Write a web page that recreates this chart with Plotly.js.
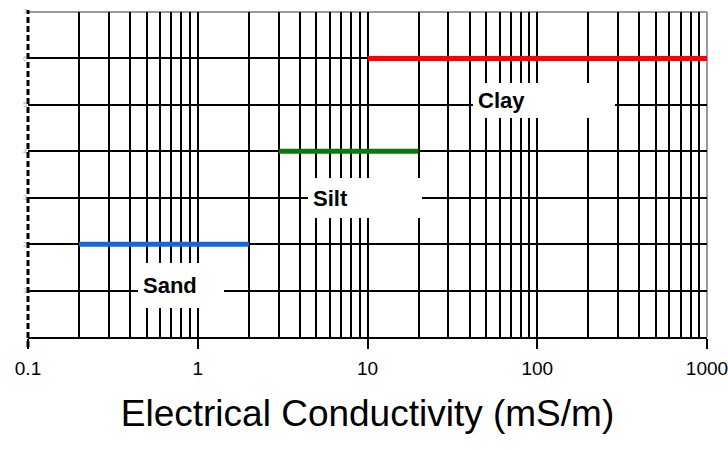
<!DOCTYPE html>
<html>
<head>
<meta charset="utf-8">
<script src="https://cdn.plot.ly/plotly-3.0.1.min.js"></script>
<style>html,body{margin:0;padding:0;background:#fff;}#chart{width:728px;height:450px;}</style>
</head>
<body>
<div id="chart"></div>
<script>
// ---- data ----
const categories = ["Sand", "Silt", "Clay"];
const xStart = [0.2, 3, 10];        // mS/m
const xEnd = [2, 20, 1000];         // mS/m
const level = [2, 4, 6];            // row on the y scale
const seriesColors = ["#1a66d9", "#0a780a", "#ff0000"];

const majorTicks = [0.1, 1, 10, 100, 1000];
const majorTickText = ["0.1", "1", "10", "100", "1000"];
const yTicks = [1, 2, 3, 4, 5, 6, 7];
const yTickText = ["1", "2", "3", "4", "5", "6", "7"];

// label boxes (left/top corner in data units, box size in px)
const labelLeft = [0.445, 4.46, 41.8];
const labelTop = [1.594, 3.424, 5.47];
const labelW = [76, 104, 132];
const labelH = [35, 30, 25];

// minor grid values 2..9 per decade
const minorTicks = [];
for (let d = -1; d < 3; d++) {
  for (let m = 2; m <= 9; m++) minorTicks.push(+(m * Math.pow(10, d)).toPrecision(3));
}

const traces = categories.map((c, i) => ({
  type: "scatter",
  mode: "lines",
  name: c,
  x: [xStart[i], xEnd[i]],
  y: [level[i], level[i]],
  line: { color: seriesColors[i], width: 5 },
  hoverinfo: "skip",
  cliponaxis: false
}));

const annotations = categories.map((c, i) => ({
  text: "<b>" + c + "</b>",
  xref: "x", yref: "y",
  x: Math.log10(labelLeft[i]), y: labelTop[i],
  xanchor: "left", yanchor: "top",
  showarrow: false,
  align: "left", valign: "middle",
  width: labelW[i], height: labelH[i],
  bgcolor: "#ffffff", borderpad: 5, borderwidth: 0,
  font: { family: "Liberation Sans, Arial, sans-serif", size: 22, color: "#000" }
}));

const layout = {
  width: 728, height: 450,
  margin: { l: 28, r: 21, t: 12, b: 113 },
  paper_bgcolor: "#fff", plot_bgcolor: "#fff",
  showlegend: false,
  font: { family: "Liberation Sans, Arial, sans-serif", color: "#000" },
  xaxis: {
    type: "log",
    range: [-1, 3],
    tickmode: "array",
    tickvals: majorTicks,
    ticktext: majorTickText,
    ticks: "outside", ticklen: 10, tickwidth: 2, tickcolor: "#000",
    tickfont: { size: 19, color: "#000" },
    ticklabeloverflow: "allow",
    ticklabelstandoff: 3,
    showgrid: true, gridcolor: "#000", gridwidth: 2,
    minor: { tickmode: "array", tickvals: minorTicks, showgrid: true, gridcolor: "#000", gridwidth: 2, ticks: "" },
    showline: true, linecolor: "#000", linewidth: 2,
    zeroline: false,
    title: { text: "Electrical Conductivity (mS/m)", font: { size: 37, color: "#000" }, standoff: 22 }
  },
  yaxis: {
    range: [0, 7],
    tickmode: "array",
    tickvals: yTicks,
    ticktext: yTickText,
    ticks: "",
    tickfont: { size: 7, color: "#b0b0b0" },
    showgrid: true, gridcolor: "#000", gridwidth: 2,
    zeroline: false,
    showline: false
  },
  shapes: [
    { type: "line", xref: "paper", yref: "paper", x0: 0, x1: 0, y0: -0.031, y1: 1.006,
      line: { color: "#000", width: 3, dash: "6px,3px" }, layer: "above" },
    { type: "line", xref: "paper", yref: "paper", x0: 0, x1: 1, y0: 1, y1: 1,
      line: { color: "#9a9a9a", width: 2 }, layer: "between" },
    { type: "line", xref: "paper", yref: "paper", x0: 1, x1: 1, y0: 0, y1: 1,
      line: { color: "#9a9a9a", width: 2 }, layer: "between" }
  ],
  annotations: annotations
};

Plotly.newPlot("chart", traces, layout, { displayModeBar: false, staticPlot: true });
</script>
</body>
</html>
